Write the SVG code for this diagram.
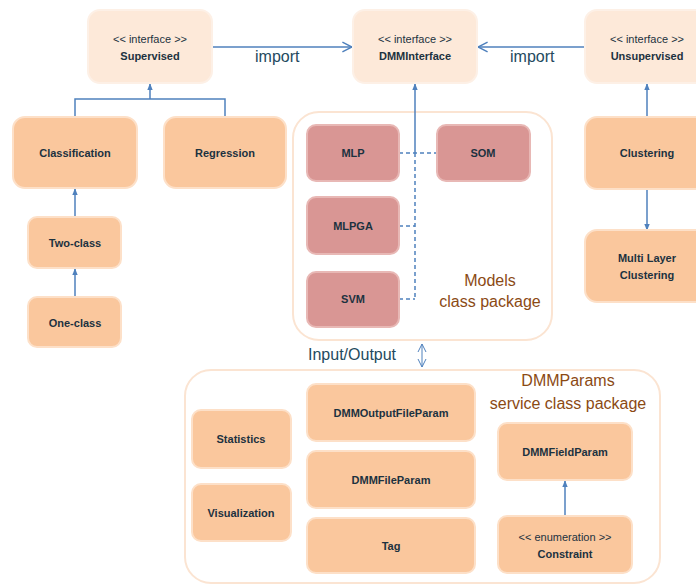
<svg xmlns="http://www.w3.org/2000/svg" width="696" height="585" viewBox="0 0 696 585">
<defs>
<marker id="tri" viewBox="0 0 10 10" refX="9" refY="5" markerWidth="7" markerHeight="7" orient="auto-start-reverse" markerUnits="userSpaceOnUse"><path d="M0,1 L10,5 L0,9 z" fill="#4f81bd"/></marker>
<marker id="open" viewBox="0 0 10 10" refX="9" refY="5" markerWidth="12" markerHeight="12" orient="auto-start-reverse" markerUnits="userSpaceOnUse"><path d="M1,1 L9,5 L1,9" fill="none" stroke="#4f81bd" stroke-width="1.2"/></marker>
<marker id="thin" viewBox="0 0 10 10" refX="9" refY="5" markerWidth="10" markerHeight="10" orient="auto-start-reverse" markerUnits="userSpaceOnUse"><path d="M1,1 L9,5 L1,9" fill="none" stroke="#4f81bd" stroke-width="1"/></marker>
</defs>
<style>
.iface{fill:#fde9d9;stroke:#fdf0e6;stroke-width:2}
.cls{fill:#fac79d;stroke:#fde0c8;stroke-width:2}
.mdl{fill:#d99694;stroke:#e8b8b5;stroke-width:2}
.pkg{fill:#ffffff;stroke:#fbe4d2;stroke-width:2}
.t{font-family:"Liberation Sans",Arial,sans-serif;font-size:11px;font-weight:bold;fill:#1c3240;text-anchor:middle}
.tn{font-family:"Liberation Sans",Arial,sans-serif;font-size:11px;fill:#1c3240;text-anchor:middle}
.lbl{font-family:"Liberation Sans",Arial,sans-serif;font-size:16px;fill:#244a5e}
.pk{font-family:"Liberation Sans",Arial,sans-serif;font-size:16px;fill:#8b4a14;text-anchor:middle}
.c{fill:none;stroke:#4f81bd;stroke-width:1.5}
.d{fill:none;stroke:#4f81bd;stroke-width:1.5;stroke-dasharray:4,3}
</style>
<rect width="696" height="585" fill="#ffffff"/>
<g id="pkg-models"><rect class="pkg" x="293" y="112" width="259" height="228" rx="26"/>
<text class="pk" x="490" y="286">Models</text><text class="pk" x="490" y="307">class package</text></g>
<g id="pkg-params"><rect class="pkg" x="185" y="370" width="475" height="213" rx="26"/>
<text class="pk" x="568" y="386">DMMParams</text><text class="pk" x="568" y="409">service class package</text></g>
<g id="connectors">
<line class="c" x1="212" y1="47" x2="352" y2="47" marker-end="url(#open)"/>
<line class="c" x1="585" y1="47" x2="478" y2="47" marker-end="url(#open)"/>
<text class="lbl" x="255" y="62">import</text>
<text class="lbl" x="510" y="62">import</text>
<polyline class="c" points="75,117 75,99 225,99 225,117"/>
<line class="c" x1="150" y1="99" x2="150" y2="84" marker-end="url(#tri)"/>
<line class="c" x1="75" y1="217" x2="75" y2="189" marker-end="url(#tri)"/>
<line class="c" x1="75" y1="297" x2="75" y2="269" marker-end="url(#tri)"/>
<line class="c" x1="415" y1="153" x2="415" y2="84" marker-end="url(#tri)"/>
<line class="d" x1="415" y1="153" x2="415" y2="299"/>
<line class="d" x1="399" y1="153" x2="437" y2="153"/>
<line class="d" x1="399" y1="226" x2="415" y2="226"/>
<line class="d" x1="399" y1="299" x2="415" y2="299"/>
<line class="c" x1="647" y1="117" x2="647" y2="84" marker-end="url(#tri)"/>
<line class="c" x1="647" y1="189" x2="647" y2="230" marker-end="url(#tri)"/>
<line class="c" x1="565" y1="516" x2="565" y2="481" marker-end="url(#tri)"/>
<line stroke="#4f81bd" stroke-width="1" x1="422" y1="344" x2="422" y2="367" marker-start="url(#thin)" marker-end="url(#thin)"/>
<text class="lbl" x="308" y="360">Input/Output</text>
</g>
<g id="supervised"><rect class="iface" x="88" y="10" width="124" height="73" rx="12"/><text class="tn" x="150" y="43">&lt;&lt; interface &gt;&gt;</text><text class="t" x="150" y="60">Supervised</text></g>
<g id="dmminterface"><rect class="iface" x="353" y="10" width="124" height="73" rx="12"/><text class="tn" x="415" y="43">&lt;&lt; interface &gt;&gt;</text><text class="t" x="415" y="60">DMMInterface</text></g>
<g id="unsupervised"><rect class="iface" x="585" y="10" width="124" height="73" rx="12"/><text class="tn" x="647" y="43">&lt;&lt; interface &gt;&gt;</text><text class="t" x="647" y="60">Unsupervised</text></g>
<g id="classification"><rect class="cls" x="13" y="117" width="124" height="71" rx="12"/><text class="t" x="75" y="157">Classification</text></g>
<g id="regression"><rect class="cls" x="164" y="117" width="122" height="71" rx="12"/><text class="t" x="225" y="157">Regression</text></g>
<g id="twoclass"><rect class="cls" x="28" y="217" width="93" height="51" rx="9"/><text class="t" x="75" y="247">Two-class</text></g>
<g id="oneclass"><rect class="cls" x="28" y="297" width="93" height="50" rx="9"/><text class="t" x="75" y="327">One-class</text></g>
<g id="mlp"><rect class="mdl" x="307" y="125" width="92" height="56" rx="9"/><text class="t" x="353" y="157">MLP</text></g>
<g id="som"><rect class="mdl" x="437" y="125" width="93" height="56" rx="9"/><text class="t" x="483" y="157">SOM</text></g>
<g id="mlpga"><rect class="mdl" x="307" y="197" width="92" height="57" rx="9"/><text class="t" x="353" y="230">MLPGA</text></g>
<g id="svm"><rect class="mdl" x="307" y="272" width="92" height="55" rx="9"/><text class="t" x="353" y="303">SVM</text></g>
<g id="clustering"><rect class="cls" x="585" y="117" width="124" height="72" rx="12"/><text class="t" x="647" y="157">Clustering</text></g>
<g id="multilayer"><rect class="cls" x="585" y="230" width="124" height="72" rx="12"/><text class="t" x="647" y="262">Multi Layer</text><text class="t" x="647" y="279">Clustering</text></g>
<g id="statistics"><rect class="cls" x="192" y="410" width="99" height="58" rx="9"/><text class="t" x="241" y="443">Statistics</text></g>
<g id="visualization"><rect class="cls" x="192" y="484" width="99" height="57" rx="9"/><text class="t" x="241" y="517">Visualization</text></g>
<g id="outputfileparam"><rect class="cls" x="307" y="384" width="168" height="57" rx="9"/><text class="t" x="391" y="417">DMMOutputFileParam</text></g>
<g id="fileparam"><rect class="cls" x="307" y="451" width="168" height="57" rx="9"/><text class="t" x="391" y="484">DMMFileParam</text></g>
<g id="tag"><rect class="cls" x="307" y="518" width="168" height="55" rx="9"/><text class="t" x="391" y="550">Tag</text></g>
<g id="fieldparam"><rect class="cls" x="498" y="423" width="134" height="57" rx="9"/><text class="t" x="565" y="456">DMMFieldParam</text></g>
<g id="constraint"><rect class="cls" x="498" y="516" width="134" height="57" rx="9"/><text class="tn" x="565" y="541">&lt;&lt; enumeration &gt;&gt;</text><text class="t" x="565" y="558">Constraint</text></g>
</svg>
